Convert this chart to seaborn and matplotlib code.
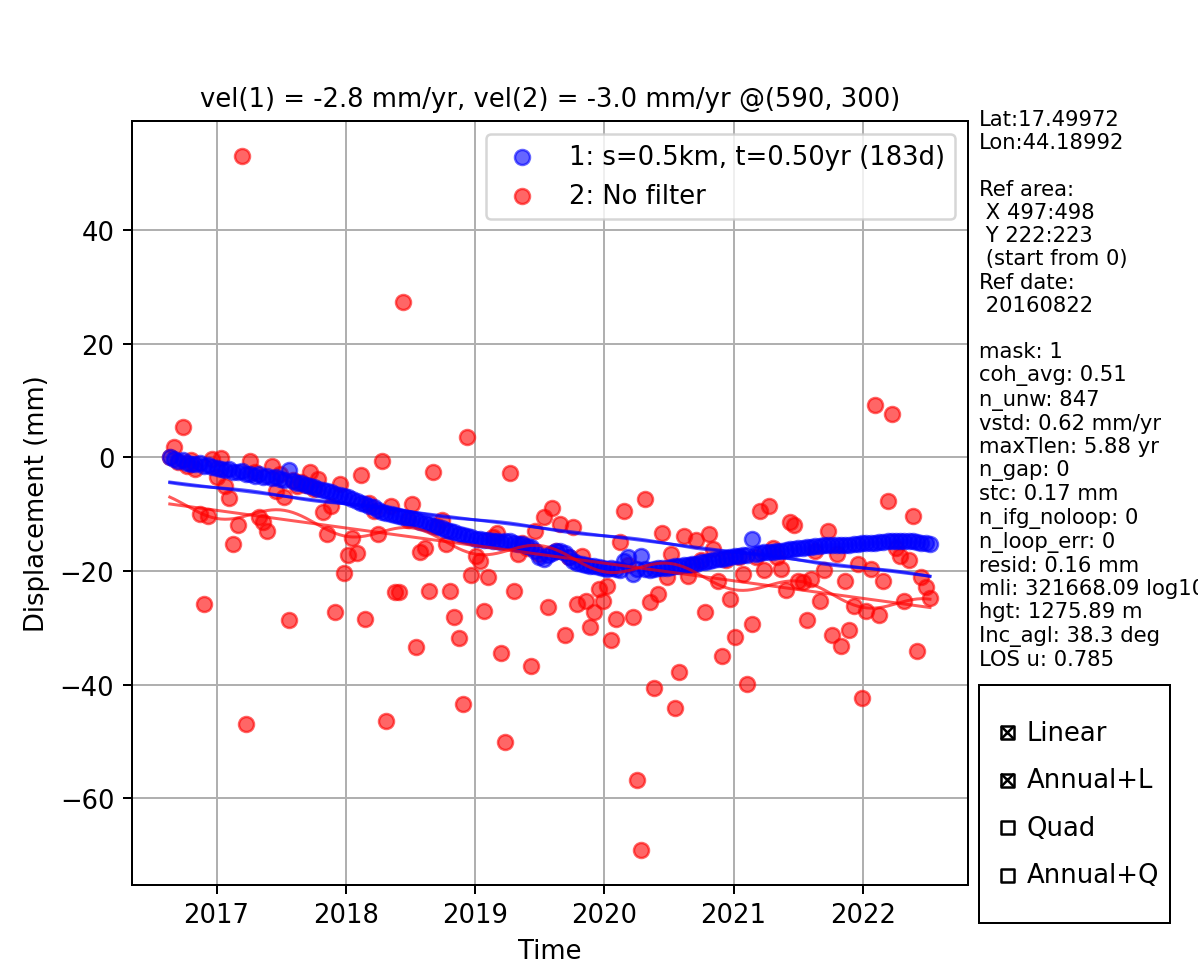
import numpy as np
import pandas as pd
import matplotlib
matplotlib.use("Agg")
import matplotlib.pyplot as plt
import seaborn as sns
from matplotlib.widgets import CheckButtons

# ---------------- data ----------------
first_date = "2016-08-22"   # reference date, 12-day Sentinel-1 acquisitions
acq_step = "12D"

# 1: filtered time series (s=0.5km, t=0.50yr)
disp_filtered = [
    0.0, -0.3, -0.6, -0.5, -1.0, -1.1, -1.2, -1.0, -1.5, -1.4,
    -1.7, -1.8, -2.0, -2.2, -2.1, -2.5, -2.6, -2.4, -2.9, -3.0,
    -3.2, -3.0, -3.4, -3.3, -3.6, -3.5, -3.8, -3.9, -2.3, -4.2,
    -4.5, -4.6, -4.9, -5.0, -5.3, -5.6, -5.7, -5.9, -6.1, -6.4,
    -6.6, -6.8, -7.0, -7.3, -7.6, -8.0, -8.2, -8.5, -8.8, -9.2,
    -9.6, -9.8, -9.9, -10.1, -10.3, -10.5, -10.6, -10.9, -11.1, -11.3,
    -11.6, -11.8, -12.0, -12.3, -12.5, -12.8, -13.0, -13.2, -13.5, -13.7,
    -13.9, -14.1, -14.3, -14.4, -14.6, -14.6, -14.8, -14.7, -14.9, -14.8,
    -14.8, -15.0, -15.2, -15.3, -15.6, -15.8, -16.4, -17.5, -17.9, -17.2,
    -16.8, -16.5, -16.4, -16.9, -17.6, -18.2, -18.6, -18.8, -19.0, -19.1,
    -19.2, -19.3, -19.4, -19.6, -19.5, -19.6, -19.8, -18.2, -17.5, -20.6,
    -19.7, -17.4, -19.6, -19.8, -19.7, -19.5, -19.4, -19.4, -19.3, -19.2,
    -19.1, -19.0, -18.9, -18.8, -18.7, -18.5, -18.4, -18.2, -18.1, -17.9,
    -17.8, -17.7, -17.5, -17.4, -17.3, -17.2, -17.1, -14.3, -17.0, -16.9,
    -16.7, -16.6, -16.6, -16.5, -16.4, -16.3, -16.2, -16.1, -16.0, -15.9,
    -15.7, -15.7, -15.6, -15.6, -15.5, -15.5, -15.5, -15.4, -15.4, -15.4,
    -15.4, -15.3, -15.2, -15.1, -15.1, -15.0, -15.0, -14.9, -14.9, -14.8,
    -14.8, -14.8, -14.7, -14.8, -14.8, -14.8, -14.9, -15.0, -15.1, -15.2,
]

# 2: unfiltered time series
disp_nofilter = [
    0.0, 1.8, -0.8, 5.3, -1.5, -0.5, -2.0, -10.0, -25.8, -10.3,
    -0.3, -3.5, -0.2, -5.0, -7.1, -15.2, -11.9, 53.1, -46.9, -0.6,
    -2.5, -10.5, -11.4, -12.9, -1.5, -5.9, -3.0, -6.9, -28.7, -4.0,
    -5.0, -4.3, -4.8, -2.6, -5.5, -3.8, -9.6, -13.5, -8.5, -27.3,
    -4.7, -20.3, -17.1, -14.2, -16.9, -3.1, -28.4, -8.0, -9.5, -13.5,
    -0.6, -46.4, -8.5, -23.7, -23.7, 27.3, -11.0, -8.2, -33.3, -16.7,
    -16.0, -23.5, -2.5, -12.0, -11.0, -15.2, -23.5, -28.1, -31.8, -43.4,
    3.5, -20.7, -17.3, -18.2, -27.0, -21.1, -14.0, -13.4, -34.4, -50.1,
    -2.8, -23.5, -17.0, -15.0, -16.0, -36.7, -13.0, -17.0, -10.5, -26.3,
    -9.0, -16.5, -11.7, -31.2, -17.5, -12.3, -25.8, -17.3, -25.2, -29.9,
    -27.2, -23.1, -25.2, -22.6, -32.2, -28.4, -14.9, -9.4, -19.0, -28.1,
    -56.8, -69.1, -7.3, -25.5, -40.6, -24.0, -13.3, -21.1, -17.0, -44.1,
    -37.8, -13.9, -20.8, -19.0, -14.6, -18.0, -27.2, -13.5, -16.1, -21.7,
    -35.0, -18.0, -24.9, -31.6, -17.5, -20.5, -39.8, -29.3, -17.5, -9.4,
    -19.9, -8.5, -16.0, -17.5, -19.6, -23.4, -11.4, -11.9, -21.7, -22.0,
    -28.7, -21.4, -16.5, -25.2, -19.9, -12.9, -31.2, -17.0, -33.2, -21.7,
    -30.4, -26.1, -18.8, -42.4, -27.0, -19.6, 9.2, -27.7, -21.7, -7.7,
    7.6, -16.0, -17.3, -25.2, -18.0, -10.4, -34.0, -21.1, -22.8, -24.8,
]

series_labels = ["1: s=0.5km, t=0.50yr (183d)", "2: No filter"]
series_colors = ["blue", "red"]
title_text = "vel(1) = -2.8 mm/yr, vel(2) = -3.0 mm/yr @(590, 300)"
info_lines = [
    "Lat:17.49972", "Lon:44.18992", "",
    "Ref area:", " X 497:498", " Y 222:223", " (start from 0)",
    "Ref date:", " 20160822", "",
    "mask: 1", "coh_avg: 0.51", "n_unw: 847", "vstd: 0.62 mm/yr",
    "maxTlen: 5.88 yr", "n_gap: 0", "stc: 0.17 mm", "n_ifg_noloop: 0",
    "n_loop_err: 0", "resid: 0.16 mm", "mli: 321668.09 log10",
    "hgt: 1275.89 m", "Inc_agl: 38.3 deg", "LOS u: 0.785",
]
model_labels = ["Linear", "Annual+L", "Quad", "Annual+Q"]
model_active = [True, True, False, False]

# ---------------- figure ----------------
plt.rcParams["font.size"] = 10.35
DPI = 180
fig = plt.figure(figsize=(1198 / DPI, 967 / DPI), dpi=DPI, facecolor="white")
ax = fig.add_axes([0.110, 0.084, 0.698, 0.790])

dates = pd.date_range(first_date, periods=len(disp_nofilter), freq=acq_step)
t_yr = np.asarray((dates - dates[0]).days, dtype=float) / 365.25


def fits(y):
    y = np.asarray(y, dtype=float)
    G_lin = np.column_stack([t_yr, np.ones_like(t_yr)])
    G_ann = np.column_stack([t_yr, np.ones_like(t_yr),
                             np.sin(2 * np.pi * t_yr), np.cos(2 * np.pi * t_yr)])
    out = []
    for G, on in zip([G_lin, G_ann], model_active[:2]):
        if on:
            m = np.linalg.lstsq(G, y, rcond=None)[0]
            out.append(G @ m)
    return out


# unfiltered first (drawn below), filtered on top
for y, lab, col in [(disp_nofilter, series_labels[1], series_colors[1]),
                    (disp_filtered, series_labels[0], series_colors[0])]:
    sns.scatterplot(x=dates, y=y, color=col, alpha=0.6, s=36, linewidth=1,
                    edgecolor="face", label=lab, ax=ax, zorder=2)
    for f in fits(y):
        sns.lineplot(x=dates, y=f, color=col, alpha=0.65, lw=1.2,
                     estimator=None, sort=False, legend=False, ax=ax, zorder=3)

h, l = ax.get_legend_handles_labels()
order = [l.index(series_labels[0]), l.index(series_labels[1])]
ax.legend([h[i] for i in order], [l[i] for i in order], loc="upper right")

ax.grid(True)
ax.set_axisbelow(True)
ax.set_title(title_text, fontsize=10.35)
ax.set_xlabel("Time")
ax.set_ylabel("Displacement (mm)")

fig.text(0.817, 0.886, "\n".join(info_lines), ha="left", va="top",
         fontsize=8.45)

cax = fig.add_axes([0.817, 0.0445, 0.160, 0.246])
check = CheckButtons(cax, model_labels, model_active)

fig.savefig("out.png", dpi=DPI, facecolor="white")
